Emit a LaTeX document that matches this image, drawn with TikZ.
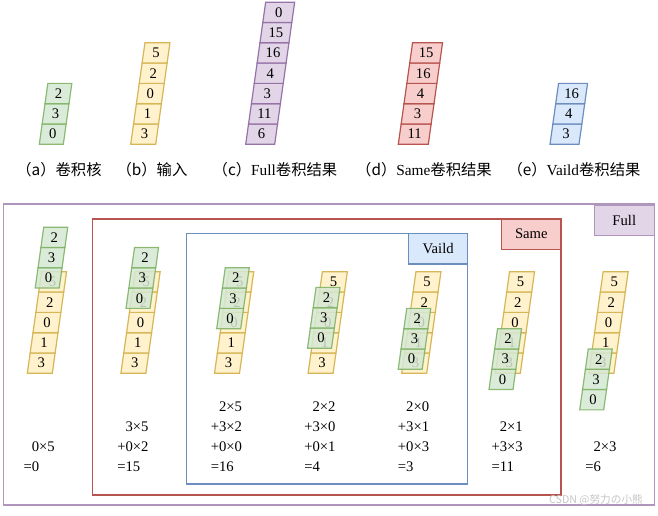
\documentclass[tikz,border=0pt]{standalone}
\usepackage{fontspec}
\setmainfont{Liberation Serif}
\newfontfamily\cjk{Noto Sans CJK SC}
\usetikzlibrary{calc}
\definecolor{kernfill}{HTML}{D5E8D4}\definecolor{kernline}{HTML}{82B366}
\definecolor{infill}{HTML}{FFF2CC}\definecolor{inline}{HTML}{D6B656}
\definecolor{fullfill}{HTML}{E1D5E7}\definecolor{fullline}{HTML}{9673A6}
\definecolor{samefill}{HTML}{F8CECC}\definecolor{sameline}{HTML}{B85450}
\definecolor{vailfill}{HTML}{DAE8FC}\definecolor{vailline}{HTML}{6C8EBF}
\def\cellh{20.3}
\def\slant{2.85}
% one slanted column of cells, listed bottom to top
\def\strip[#1](#2,#3:#4)#5{%
  \foreach \v [count=\i from 0] in {#5} {
    \draw[#1] ({#2+\i*\slant},{#3-\i*\cellh}) -- ++(#4,0) -- ++(\slant,-\cellh) -- ++(-#4,0) -- cycle;
    \node[num] at ({#2+\i*\slant+(\slant+#4)/2},{#3-(\i+0.5)*\cellh}) {\v};
  }}
% a sum, lines listed bottom to top
\def\sumtext(#1)#2{%
  \foreach \t [count=\j from 0] in {#2}
    \node[num, anchor=base west, inner sep=0] at (#1,{471.4-20*\j}) {\t};}
\begin{document}
\begin{tikzpicture}[x=0.75pt, y=-0.75pt,
    num/.style={font=\fontsize{11}{13}\selectfont},
    lab/.style={font=\fontsize{11.5}{13}\selectfont},
    kern/.style={draw=kernline, fill=kernfill, line width=0.9pt, fill opacity=0.85, draw opacity=0.9},
    inp/.style={draw=inline, fill=infill, line width=0.9pt},
    full/.style={draw=fullline, fill=fullfill, line width=0.9pt},
    same/.style={draw=sameline, fill=samefill, line width=0.9pt},
    vail/.style={draw=vailline, fill=vailfill, line width=0.9pt},
    frame/.style={line width=1.1pt}]
  \useasboundingbox (0,0) rectangle (658,516);
  %%%%% TOP ROW %%%%%
  \strip[kern](39.3,144.3:24){0,3,2}
  \strip[inp](130.7,144.3:25){3,1,0,2,5}
  \strip[full](245.7,144.3:29){6,11,3,4,16,15,0}
  \strip[same](398.3,144.3:30){11,3,4,16,15}
  \strip[vail](550,144.3:29){3,4,16}
  \node[lab] at (59,170) {{\cjk （a）卷积核}};
  \node[lab] at (152,170) {{\cjk （b）输入}};
  \node[lab] at (275,170) {{\cjk （c）}Full{\cjk 卷积结果}};
  \node[lab] at (424,170) {{\cjk （d）}Same{\cjk 卷积结果}};
  \node[lab] at (574,170) {{\cjk （e）}Vaild{\cjk 卷积结果}};
  %%%%% FRAMES %%%%%
  \draw[frame, draw=fullline!75] (3.3,204) rectangle (654.3,505);
  \draw[frame, draw=fullline!75, fill=fullfill] (594.3,205) rectangle (654.3,235.7);
  \node[num] at (624.3,220.3) {Full};
  \draw[frame, draw=sameline] (92.7,219) rectangle (561,495);
  \draw[frame, draw=sameline, fill=samefill] (501.7,219) rectangle (561,249.3);
  \node[num] at (531.3,234.2) {Same};
  \draw[frame, draw=vailline] (186.7,233.3) rectangle (467.7,484);
  \draw[frame, draw=vailline, fill=vailfill] (408.7,233.3) rectangle (467.7,264);
  \node[num] at (438.2,248.7) {Vaild};
  %%%%% SLIDING STEPS %%%%%
  \strip[inp](27.3,373.3:25){3,1,0,2,5}
  \strip[kern](35.2,288.1:24){0,3,2}
  \sumtext(23.3){=0,\phantom{+}0×5}
  \strip[inp](120.9,373.3:25){3,1,0,2,5}
  \strip[kern](126,308.4:24){0,3,2}
  \sumtext(117){=15,+0×2,\phantom{+}3×5}
  \strip[inp](214.5,373.3:25){3,1,0,2,5}
  \strip[kern](216.7,328.7:24){0,3,2}
  \sumtext(210.5){=16,+0×0,+3×2,\phantom{+}2×5}
  \strip[inp](308.1,373.3:25){3,1,0,2,5}
  \strip[kern](307.5,348.3:24){0,3,2}
  \sumtext(304.1){=4,+0×1,+3×0,\phantom{+}2×2}
  \strip[inp](401.7,373.3:25){3,1,0,2,5}
  \strip[kern](398.2,369.3:24){0,3,2}
  \sumtext(397.7){=3,+0×3,+3×1,\phantom{+}2×0}
  \strip[inp](495.3,373.3:25){3,1,0,2,5}
  \strip[kern](489,389.6:24){0,3,2}
  \sumtext(491.3){=11,+3×3,\phantom{+}2×1}
  \strip[inp](588.9,373.3:25){3,1,0,2,5}
  \strip[kern](579.7,409.9:24){0,3,2}
  \sumtext(585){=6,\phantom{+}2×3}
  \node[text=gray!45, font=\cjk\fontsize{8}{9}\selectfont] at (596,500) {CSDN @努力の小熊};
\end{tikzpicture}
\end{document}
